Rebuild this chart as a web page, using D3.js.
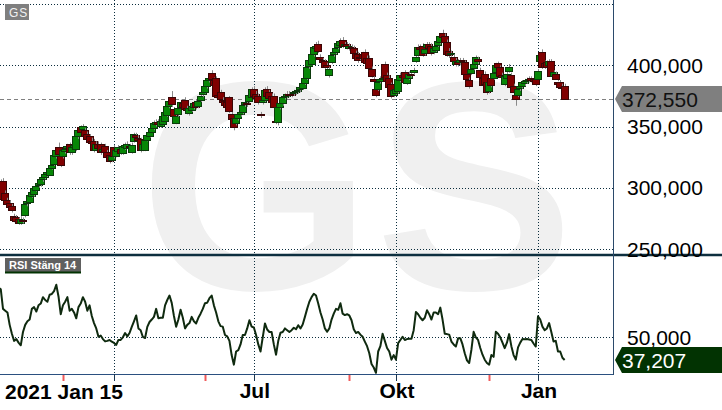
<!DOCTYPE html>
<html>
<head>
<meta charset="utf-8">
<script src="https://cdn.jsdelivr.net/npm/d3@7"></script>
<style>
  body { margin: 0; background: #fff; }
  svg { display: block; font-family: "Liberation Sans", Arial, sans-serif; }
</style>
</head>
<body>
<svg id="chart" width="722" height="410"></svg>
<script>
// daily candles, index 0 = 2021 Jan 15
const opens = [
  300, 305, 306, 296, 290, 288, 285.5, 277, 276, 275,
  272, 274, 278, 287, 289, 294, 295, 298.6, 302, 303,
  307, 309, 311, 311, 316.6, 320, 326, 333, 326, 326,
  330, 332, 335.5, 329, 333, 331, 342, 349.4, 348, 347,
  344, 342, 338, 338, 331, 336, 335.5, 330, 334, 329,
  327, 323, 333, 326, 330, 332, 328, 333, 333, 334,
  329, 338, 343, 341, 340, 331, 331, 339, 343, 346,
  349, 352, 354, 351, 352, 355, 360, 367, 374, 364,
  353.5, 360, 366, 369, 372, 365, 361, 364, 366, 370,
  367, 372, 376, 378, 383, 388, 393.7, 388, 390, 376,
  378, 372, 371, 370, 374, 360, 356.8, 353, 357, 360,
  362, 368, 369, 371, 374, 381, 377, 375, 360, 370,
  372, 381, 378, 375, 375, 355, 353.5, 366, 369, 374,
  375, 377, 377, 377, 378, 379, 380, 381.4, 386, 389.6,
  399, 401, 409, 414, 417.5, 407, 404, 403.5, 400, 392,
  403, 409, 411, 415, 417, 421, 416, 417, 414, 415,
  414, 410, 409, 407, 409, 411, 406, 406, 397, 389,
  381, 380.6, 387, 389, 401, 392, 390, 384.6, 376, 378,
  379, 388, 392, 394.5, 386, 390, 393, 394, 403.5, 408.4,
  415, 416, 410, 414.8, 417, 416, 411, 413, 417, 418.8,
  426, 424, 419, 412, 409, 407, 401, 403, 402, 404,
  402.5, 393, 388, 393.5, 398, 401, 405, 396, 390, 393,
  386, 379, 390, 390, 394.5, 402, 398.5, 392, 384.7, 390,
  396, 392, 383, 376, 376, 381, 383, 385, 387, 388,
  389.5, 389, 389, 389.3, 403.8, 410.6, 402, 403, 400.2, 403.8,
  391.5, 393, 386, 386, 382.5, 382.8
];
const highs = [
  308, 307, 308, 298, 292, 290, 287, 279, 278, 276,
  277, 276, 288, 291, 296, 299, 301, 304, 306, 308,
  311, 313, 315, 318, 321, 328, 333, 337, 328, 332,
  334, 336, 337, 335, 337, 343, 349, 351, 352, 349,
  346, 344, 341, 340, 338, 338, 337, 334, 336, 331,
  328, 328, 335, 333, 335, 334, 336, 337, 338, 336,
  337, 345, 345, 343, 341, 338, 340, 345, 347, 351,
  355, 356, 356, 357, 360, 364, 368, 373, 379, 366,
  361, 367, 372, 371, 374, 367, 367, 369, 371, 372,
  373, 377, 380, 384, 389, 392, 396, 390, 391, 378,
  380, 374, 373, 372, 375, 362, 358, 359, 362, 364,
  369, 372, 371, 377, 382, 383, 379, 377, 362, 374,
  382, 383, 380, 377, 377, 357, 367, 371, 376, 377,
  379, 379, 379, 380, 381, 382, 384, 390, 392, 400,
  406, 411, 417, 419, 420, 409, 406, 405, 402, 399,
  410, 413, 416, 420, 422, 423, 419, 419, 418, 417,
  416, 412, 411, 409, 411, 413, 408, 408, 399, 391,
  383, 388, 391, 392, 403, 394, 392, 386, 382, 383,
  390, 394, 394, 396, 392, 395, 395, 398, 408, 417,
  417, 418, 415, 419, 419, 418, 416, 418, 422, 426,
  429, 426, 421, 414, 412, 409, 406, 405, 406, 406,
  404, 395, 390, 398, 403, 408, 407, 398, 392, 395,
  388, 388, 392, 396, 402, 403, 400, 394, 393, 395,
  401, 394, 385, 378, 383, 385, 388, 389, 390, 391,
  391, 391, 391, 397, 410, 413, 404, 404, 405, 405,
  396, 395, 388, 388, 385, 385
];
const lows = [
  297, 298, 289, 288, 285, 283, 280, 272, 271, 270,
  270, 271, 276, 285, 288, 292, 293, 297, 300, 301,
  305, 307, 309, 310, 315, 318, 324, 325, 317, 324,
  328, 330, 327, 327, 331, 330, 340, 343, 346, 340,
  338, 335, 334, 329, 330, 331, 327, 328, 327, 323,
  320, 321, 324, 325, 328, 327, 327, 331, 332, 331,
  328, 337, 339, 337, 329, 330, 330, 338, 341, 345,
  347, 350, 350, 349, 351, 354, 358, 365, 366, 356,
  352, 358, 364, 364, 363, 360, 359, 362, 364, 364,
  365, 370, 374, 377, 381, 386, 387, 382, 373, 372,
  370, 368, 366, 364, 361, 354, 347, 351, 355, 358,
  360, 366, 366, 369, 373, 373, 372, 368, 357, 368,
  370, 373, 371, 368, 364, 352, 351, 364, 367, 372,
  373, 374, 374, 375, 376, 377, 378, 380, 384, 388,
  397, 400, 407, 412, 410, 403, 400, 397, 396, 390,
  401, 407, 409, 413, 415, 414, 414, 413, 412, 412,
  408, 404, 402, 404, 404, 401, 400, 396, 390, 385,
  374, 379, 385, 387, 388, 385, 381, 373, 374, 376,
  377, 386, 388, 385, 384, 388, 390, 392, 402, 407,
  411, 407, 408, 413, 412, 408, 409, 411, 415, 417,
  421, 417, 407, 406, 407, 402, 399, 399, 400, 401,
  391, 387, 381, 392, 396, 399, 401, 388, 383, 383,
  376, 377, 382, 388, 393, 396, 390, 388, 383, 388,
  394, 380, 376, 367, 374, 379, 381, 383, 385, 386,
  386, 385, 383, 388, 402, 397, 397, 398, 398, 399,
  389, 390, 387, 382, 380, 372
];
const closes = [
  305, 300, 291, 290, 287, 285, 282, 274, 273, 272,
  275, 273, 287, 289, 294.5, 297, 300, 302, 304, 307,
  309, 311.6, 313, 316.6, 319, 327, 331, 327, 319, 330.6,
  332, 334, 329, 333, 335, 342, 347, 345, 350.5, 342,
  340, 337, 336, 331, 336, 333, 329, 332, 329, 325,
  322, 326, 326, 331, 333, 329, 334, 335, 336, 333,
  335, 343.6, 341, 339, 331, 336, 339, 343, 346, 349,
  353, 354, 352, 355, 358.7, 362, 367, 371, 368, 358.7,
  359, 365, 370, 366, 365, 363, 365, 367, 369, 366,
  371, 375, 378, 383, 388, 390, 388.7, 384, 375, 374,
  372, 370, 368, 366, 362.8, 356, 349.4, 357, 360, 362,
  368, 370, 368, 376, 380.6, 375, 374, 370, 359, 372,
  380, 375, 373, 370, 366, 354.6, 365.8, 369, 374, 375,
  377, 376, 376, 378, 379, 380, 382, 385.5, 390, 398.6,
  404, 409, 415, 416, 412, 405, 402, 399, 398, 397,
  408.4, 411, 414, 418, 420, 416, 417, 415, 416, 414,
  410, 405.7, 404, 406, 406, 402.5, 402, 398, 391.5, 387,
  376, 386.6, 389, 390, 390, 387, 383, 375, 380, 381,
  388.8, 392, 390, 386.6, 390, 393, 392, 396, 406.8, 415,
  413, 409, 413, 417.5, 414, 410, 414, 416, 420, 424,
  423, 419, 409, 408.4, 410, 404, 403.8, 401, 404, 403,
  392.9, 389, 382.8, 396.6, 401, 406.8, 403, 390, 384.6, 385,
  378, 386, 384, 394, 400, 398.5, 391.5, 390, 391.5, 393,
  399, 382, 378, 372.6, 381, 383, 386, 387, 388, 389,
  388, 387, 385, 395.6, 408.4, 398.4, 399, 399, 403.8, 391.5,
  394.7, 389, 384, 382, 382, 372.55
];
const rsiValues = [
  78, 77, 66, 65, 64, 57, 52, 48, 49, 47,
  45.5, 53, 57, 59, 60, 66, 67, 64.5, 68, 69,
  72.6, 71, 70, 74, 74.4, 76, 79.6, 73, 63, 68,
  70, 72.6, 65, 66, 64, 60.7, 67, 69, 72.6, 70,
  65, 68, 62, 58, 55, 50.3, 51, 49, 47.7, 48,
  48.5, 47.5, 46.8, 45.7, 48.5, 48.5, 50, 52.4, 50.5, 52.4,
  55.9, 59, 62.3, 55, 54, 50.2, 49.6, 55.9, 58.6, 60,
  61.5, 66, 60.7, 61, 61, 68, 71, 73.5, 69.4, 62,
  55.9, 60, 65.5, 61, 55, 57, 58, 61.5, 59, 57.8,
  61, 63.3, 66, 69.2, 69.5, 72, 73.5, 68, 64, 59,
  56.3, 56, 51.3, 50.5, 48, 40, 34.6, 42, 42.8, 46,
  51.3, 51.3, 55, 59.6, 56, 55.5, 51.3, 46, 42, 50,
  57.8, 54.4, 53, 53, 46, 40.2, 48, 52.6, 53, 55,
  54, 53, 54, 55.4, 54.5, 56.8, 55, 57.2, 61.5, 66,
  70, 72.6, 74.5, 73.5, 69, 64, 60, 55, 53.1, 55,
  60, 63.3, 66, 65.5, 69.2, 63.3, 62.5, 63, 62.3, 59.6,
  54.5, 52.4, 53, 51.5, 50.3, 47.6, 45, 41, 35, 33,
  30, 42, 45, 52, 48, 44, 42, 37.4, 40, 37.4,
  46.7, 48.5, 50.3, 48.5, 49, 49.2, 49.2, 54, 64.2, 63,
  61, 59.6, 61, 65.2, 63, 60, 64, 64, 63, 66.7,
  60, 52, 51.8, 51.5, 47.6, 46, 44.8, 49.4, 49.5, 46,
  41, 37, 35.5, 43, 53.1, 50, 48.5, 44, 40.2, 37.4,
  35.5, 34.6, 40, 39, 53.1, 52, 50, 47, 43.9, 47,
  51.8, 45, 40, 37.4, 44.3, 47, 49, 48.9, 49, 48.8,
  48.5, 46.5, 44.8, 61.8, 60, 56, 54, 55, 58, 53,
  47.6, 48, 42, 42, 38.5, 37.207
];

const priceTicks = [450, 400, 350, 300, 250];
const priceLabelTicks = [400, 350, 300, 250];
const rsiTicks = [50];
const timeTicks = [52, 115, 179, 243];
const timeLabels = ["", "Jul", "Okt", "Jan"];
const monthMarks = [29, 93, 158, 221];
const startLabel = "2021 Jan 15";
const symbol = "GS";
const rsiTitle = "RSI Stäng 14";

const W = 722;
const plotRight = 613;
const priceTop = 0;
const rsiBottom = 374;

const svLocale = d3.formatLocale({ decimal: ",", thousands: " ", grouping: [3], currency: ["", ""] });
const fmt = svLocale.format(".3f");

const candles = closes.map((c, i) => ({ i, o: opens[i], h: highs[i], l: lows[i], c }));

const svg = d3.select("#chart");

const x = d3.scaleLinear().domain([52, 243]).range([114, 538]);
const yPrice = d3.scaleLinear().domain([250, 400]).range([249.3, 65.3]);
const yRsi = d3.scaleLinear().domain([25, 75]).range([381.7, 292.9]);

const gridColor = "#0b2d3d";

// watermark
const wm = svg.append("g").attr("fill", "#f0f0f0")
  .style("font-weight", 700).style("font-size", "298px").attr("text-anchor", "middle");
wm.append("text").attr("x", 255.5).attr("y", 289).text(symbol[0]);
wm.append("text").attr("x", 474.5).attr("y", 289).text(symbol[1]);

// horizontal gridlines
svg.append("g").selectAll("line").data(priceTicks).join("line")
  .attr("x1", 0).attr("x2", plotRight)
  .attr("y1", (d) => Math.round(yPrice(d)) + 0.5).attr("y2", (d) => Math.round(yPrice(d)) + 0.5)
  .attr("stroke", gridColor).attr("stroke-dasharray", "1 2");

svg.append("g").selectAll("line").data(rsiTicks).join("line")
  .attr("x1", 0).attr("x2", plotRight)
  .attr("y1", (d) => Math.round(yRsi(d)) + 0.5).attr("y2", (d) => Math.round(yRsi(d)) + 0.5)
  .attr("stroke", gridColor).attr("stroke-dasharray", "1 2");

// vertical gridlines
svg.append("g").selectAll("line").data(timeTicks).join("line")
  .attr("x1", (d) => Math.round(x(d)) + 0.5).attr("x2", (d) => Math.round(x(d)) + 0.5)
  .attr("y1", priceTop).attr("y2", rsiBottom)
  .attr("stroke", gridColor).attr("stroke-dasharray", "1 2");

// last price line
const lastClose = closes[closes.length - 1];
const lastRsi = rsiValues[rsiValues.length - 1];
svg.append("line")
  .attr("x1", 0).attr("x2", plotRight)
  .attr("y1", Math.round(yPrice(lastClose)) + 0.5).attr("y2", Math.round(yPrice(lastClose)) + 0.5)
  .attr("stroke", "#808080").attr("stroke-dasharray", "4 3");

// candles
const candleG = svg.append("g").selectAll("g").data(candles).join("g");
candleG.append("line")
  .attr("x1", (d) => Math.round(x(d.i)) + 0.5).attr("x2", (d) => Math.round(x(d.i)) + 0.5)
  .attr("y1", (d) => yPrice(d.h)).attr("y2", (d) => yPrice(d.l))
  .attr("stroke", "#8a8a8a");
candleG.append("rect")
  .attr("x", (d) => Math.round(x(d.i)) - 3.5)
  .attr("y", (d) => Math.round(yPrice(Math.max(d.o, d.c))) + 0.5)
  .attr("width", 7)
  .attr("height", (d) => Math.max(1, Math.round(Math.abs(yPrice(d.o) - yPrice(d.c)))))
  .attr("fill", (d) => (d.c >= d.o ? "#078707" : "#800000"))
  .attr("stroke", (d) => (d.c >= d.o ? "#0b3a0b" : "#3a0606"));

// RSI line
svg.append("path")
  .datum(rsiValues)
  .attr("fill", "none")
  .attr("stroke", "#0f2a0f")
  .attr("stroke-width", 2)
  .attr("stroke-linejoin", "round")
  .attr("d", d3.line().x((d, i) => x(i)).y((d) => yRsi(d)));

// frame
svg.append("line").attr("x1", 0).attr("x2", W).attr("y1", 255).attr("y2", 255)
  .attr("stroke", "#0d2f3f").attr("stroke-width", 2.5);
svg.append("line").attr("x1", plotRight + 0.5).attr("x2", plotRight + 0.5).attr("y1", 0).attr("y2", rsiBottom + 1)
  .attr("stroke", "#2b4a6b");
svg.append("line").attr("x1", 0).attr("x2", plotRight).attr("y1", rsiBottom + 0.5).attr("y2", rsiBottom + 0.5)
  .attr("stroke", "#2b5080");

// x ticks
svg.append("g").selectAll("line").data(timeTicks).join("line")
  .attr("x1", (d) => Math.round(x(d)) + 0.5).attr("x2", (d) => Math.round(x(d)) + 0.5)
  .attr("y1", rsiBottom).attr("y2", rsiBottom + 7)
  .attr("stroke", "#1a3550");
svg.append("g").selectAll("line").data(monthMarks).join("line")
  .attr("x1", (d) => Math.round(x(d)) + 0.5).attr("x2", (d) => Math.round(x(d)) + 0.5)
  .attr("y1", rsiBottom + 1).attr("y2", rsiBottom + 7)
  .attr("stroke", "#f05a5a").attr("stroke-width", 2);

// x labels
const xLab = svg.append("g").style("font-size", "21px").style("font-weight", 700).attr("fill", "#000");
xLab.append("text").attr("x", 5).attr("y", 399).text(startLabel);
xLab.selectAll("text.tick").data(timeTicks.filter((d, i) => timeLabels[i]))
  .join("text").attr("class", "tick")
  .attr("x", (d) => x(d) + 1).attr("y", 398).attr("text-anchor", "middle")
  .text((d) => timeLabels[timeTicks.indexOf(d)]);

// right labels
const yLab = svg.append("g").style("font-size", "21px").attr("fill", "#000");
yLab.selectAll("text.p").data(priceLabelTicks).join("text").attr("class", "p")
  .attr("x", 627).attr("y", (d) => yPrice(d)).attr("dy", "0.35em").text((d) => fmt(d));
yLab.selectAll("text.r").data(rsiTicks).join("text").attr("class", "r")
  .attr("x", 627).attr("y", (d) => yRsi(d)).attr("dy", "0.35em").text((d) => fmt(d));

// value tags
function tag(yv, fill, textFill, label) {
  const t = Math.round(yv);
  svg.append("path")
    .attr("d", `M615,${t} L622,${t - 13} L${W},${t - 13} L${W},${t + 13} L622,${t + 13} Z`)
    .attr("fill", fill);
  svg.append("text").attr("x", 622).attr("y", t).attr("dy", "0.36em")
    .style("font-size", "21px").attr("fill", textFill).text(label);
}
tag(yPrice(lastClose), "#7f7f7f", "#111", fmt(lastClose));
tag(yRsi(lastRsi), "#023302", "#fff", fmt(lastRsi));

// panel titles
svg.append("rect").attr("x", 5).attr("y", 4).attr("width", 24).attr("height", 16).attr("fill", "#7f7f7f");
svg.append("text").attr("x", 9).attr("y", 16.5).style("font-size", "12px").style("letter-spacing", "1px")
  .attr("fill", "#f2f2f2").text(symbol);

svg.append("rect").attr("x", 5).attr("y", 258).attr("width", 76).attr("height", 15).attr("fill", "#606060");
svg.append("rect").attr("x", 5).attr("y", 271.5).attr("width", 76).attr("height", 2).attr("fill", "#023302");
svg.append("text").attr("x", 9).attr("y", 269).style("font-size", "11px").style("font-weight", 700)
  .attr("fill", "#fff").text(rsiTitle);
</script>
</body>
</html>
